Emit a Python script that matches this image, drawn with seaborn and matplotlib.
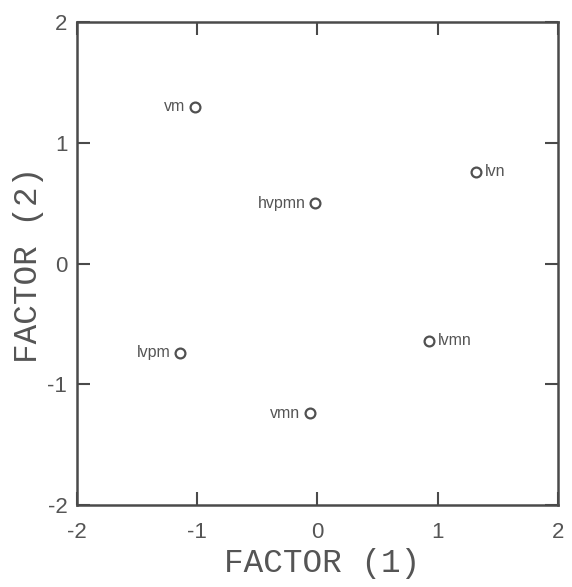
import matplotlib
matplotlib.use("Agg")
import matplotlib.pyplot as plt
import seaborn as sns
import pandas as pd

# Factor scores for each group
groups = ["vm", "hvpmn", "lvn", "lvmn", "lvpm", "vmn"]
factor1 = [-1.02, -0.02, 1.32, 0.93, -1.14, -0.06]
factor2 = [1.30, 0.50, 0.76, -0.64, -0.74, -1.24]
label_side = ["left", "left", "right", "right", "left", "left"]

ticks = [-2, -1, 0, 1, 2]

sns.set_style("ticks")
plt.rcParams["font.family"] = ["Liberation Sans", "DejaVu Sans"]

df = pd.DataFrame({"f1": factor1, "f2": factor2, "group": groups, "side": label_side})

ink = "#4a4a4a"
fig = plt.figure(figsize=(5.72, 5.87), dpi=100)
ax = fig.add_axes([0.1346, 0.1397, 0.8409, 0.8228])

sns.scatterplot(data=df, x="f1", y="f2", ax=ax, s=50, marker="o",
                facecolor="white", edgecolor="#505050", linewidth=1.6, zorder=3)

for _, row in df.iterrows():
    if row["side"] == "left":
        ax.annotate(row["group"], (row["f1"], row["f2"]), xytext=(-7, 0),
                    textcoords="offset points", ha="right", va="center",
                    fontsize=11.5, color="#555555")
    else:
        ax.annotate(row["group"], (row["f1"], row["f2"]), xytext=(6, 0),
                    textcoords="offset points", ha="left", va="center",
                    fontsize=11.5, color="#555555")

ax.set_xlim(-2, 2)
ax.set_ylim(-2, 2)
ax.set_xticks(ticks)
ax.set_yticks(ticks)
ax.set_xticklabels([str(t) for t in ticks])
ax.set_yticklabels([str(t) for t in ticks])

for sp in ax.spines.values():
    sp.set_visible(True)
    sp.set_linewidth(1.8)
    sp.set_color(ink)

ax.tick_params(direction="in", top=True, right=True, length=9.5, width=1.5,
               color=ink, labelsize=16, labelcolor="#555555")
ax.tick_params(axis="x", pad=12)
ax.tick_params(axis="y", pad=7)

mono = ["Liberation Mono", "DejaVu Sans Mono"]
ax.set_xlabel("FACTOR (1)", fontsize=23.5, color="#555555", family=mono)
ax.set_ylabel("FACTOR (2)", fontsize=23.5, color="#555555", family=mono)
ax.xaxis.set_label_coords(0.509, -0.09)
ax.yaxis.set_label_coords(-0.069, 0.497)

fig.savefig("out.png", dpi=100, facecolor="white")
